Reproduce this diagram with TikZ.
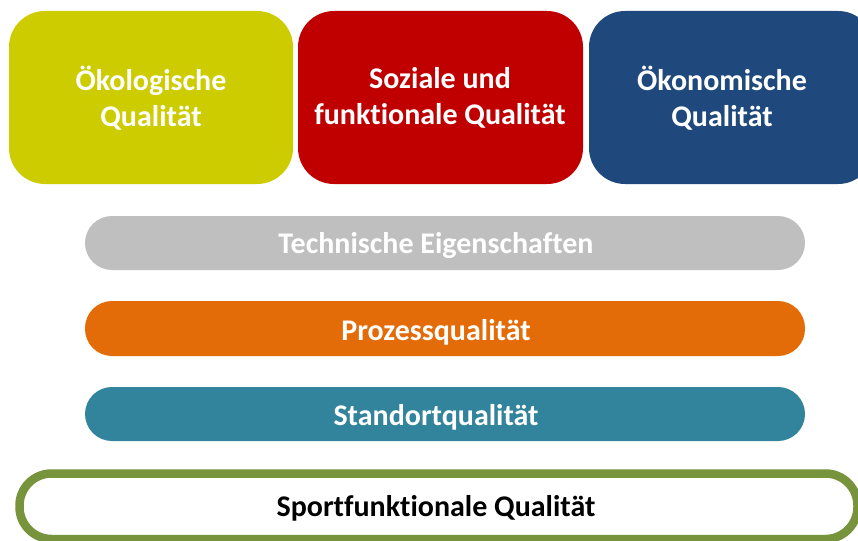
\documentclass[tikz,border=0pt]{standalone}
\usepackage{fontspec}
\setmainfont[Ligatures=NoCommon]{Carlito}
\definecolor{cOeko}{HTML}{CCCC00}
\definecolor{cSoz}{HTML}{C00000}
\definecolor{cOekon}{HTML}{1F497D}
\definecolor{cTech}{HTML}{BFBFBF}
\definecolor{cProz}{HTML}{E36C09}
\definecolor{cStand}{HTML}{31849B}
\definecolor{cSport}{HTML}{77933C}
\begin{document}
\begin{tikzpicture}[x=1pt,y=-1pt,
  lbl/.style={text=white, font=\bfseries\fontsize{30}{36}\selectfont, align=center}]
\useasboundingbox (0,0) rectangle (858,540);
\clip (0,0) rectangle (858,540);
% top boxes
\fill[cOeko, rounded corners=36pt] (9,11) rectangle (293,184);
\node[lbl] (oeko) at (151,98) {Ökologische\\Qualität};
\fill[cSoz, rounded corners=36pt] (298,11) rectangle (583,184);
\node[lbl] (soz) at (440,98) {Soziale und\\funktionale Qualität};
\fill[cOekon, rounded corners=36pt] (589,11) rectangle (874,184);
\node[lbl] (oekon) at (722,98) {Ökonomische\\Qualität};
% bars
\fill[cTech, rounded corners=27pt] (85,216) rectangle (805,270);
\node[lbl] (tech) at (436,246) {Technische Eigenschaften};
\fill[cProz, rounded corners=27pt] (85,301) rectangle (805,356);
\node[lbl] (proz) at (436,332) {Prozessqualität};
\fill[cStand, rounded corners=27pt] (85,387) rectangle (805,441);
\node[lbl] (stand) at (436,417) {Standortqualität};
% bottom
\draw[cSport, line width=8.5pt, fill=white, rounded corners=32pt] (19.5,473.5) rectangle (857.5,539);
\node[lbl, text=black] (sport) at (436,508) {Sportfunktionale Qualität};
\end{tikzpicture}
\end{document}
